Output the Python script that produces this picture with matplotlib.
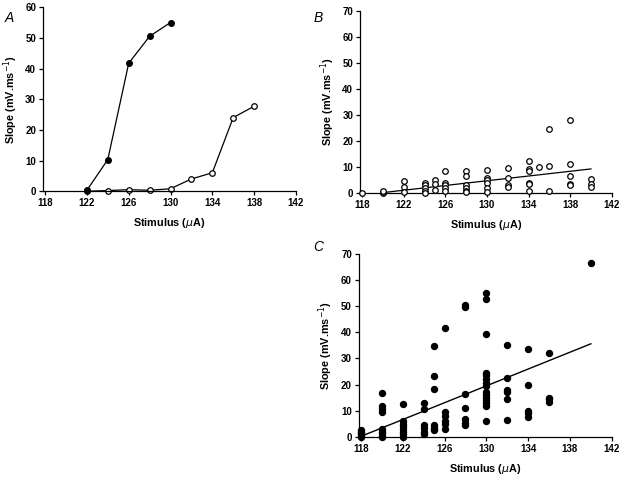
import numpy as np
import matplotlib.pyplot as plt

plt.rcParams['font.family'] = ['Liberation Sans', 'DejaVu Sans']

# Panel A: one cell, two stimulus series
a_x_filled = [122, 124, 126, 128, 130]
a_y_filled = [0.3, 10.3, 41.7, 50.5, 55.0]
a_x_open = [122, 124, 126, 128, 130, 132, 134, 136, 138]
a_y_open = [0.0, 0.2, 0.5, 0.3, 0.8, 4.0, 6.0, 24.0, 27.7]

# Panel B: open symbols
b_x = ([118] + [120] * 3 + [122] * 3 + [124] * 5 + [125] * 3 + [126] * 5
       + [128] * 6 + [130] * 6 + [132] * 4 + [134] * 6 + [135] + [136] * 3
       + [138] * 5 + [140] * 3)
b_y = ([0]
       + [0, 0.5, 1]
       + [4.7, 2.2, 0.4]
       + [4.0, 3.0, 2.0, 1.0, 0.1]
       + [4.9, 3.6, 1.3]
       + [8.6, 4.0, 3.0, 2.0, 1.0]
       + [8.5, 6.5, 3.0, 2.0, 1.0, 0.4]
       + [9.0, 6.0, 5.0, 4.0, 2.0, 0.4]
       + [9.6, 6.0, 3.0, 2.3]
       + [12.5, 9.2, 8.5, 4.0, 3.5, 0.9]
       + [10.0]
       + [24.5, 10.5, 1.0]
       + [28.0, 11.0, 6.5, 3.5, 3.0]
       + [5.5, 3.5, 2.5])
b_fit_x = [120, 140]
b_fit_y = [0.2, 9.3]

# Panel C: filled symbols
c_x = ([118] * 6 + [120] * 9 + [122] * 8 + [124] * 6 + [125] * 7 + [126] * 6
       + [128] * 7 + [130] * 15 + [132] * 6 + [134] * 5 + [136] * 4 + [140])
c_y = ([0, 0.5, 1.0, 1.5, 2.0, 2.5]
       + [16.8, 11.7, 10.5, 9.5, 3.0, 2.0, 1.5, 0.5, 0]
       + [12.5, 6.0, 5.0, 4.0, 3.0, 2.0, 1.0, 0]
       + [13.0, 10.7, 4.5, 3.5, 2.0, 1.0]
       + [34.9, 23.2, 18.5, 4.5, 3.5, 3.0, 2.5]
       + [41.8, 9.5, 8.0, 6.0, 5.0, 3.0]
       + [50.5, 49.6, 16.5, 11.0, 7.0, 5.5, 4.5]
       + [55.2, 52.7, 39.2, 24.5, 23.5, 22.0, 20.5, 19.5, 17.0, 16.0, 15.0,
          14.0, 13.0, 12.0, 6.1]
       + [35.0, 22.5, 18.0, 17.0, 14.3, 6.6]
       + [33.6, 19.7, 10.0, 9.0, 7.5]
       + [31.9, 15.0, 14.3, 13.5]
       + [66.3])
c_fit_x = [118, 140]
c_fit_y = [0.2, 35.6]

xticks = [118, 122, 126, 130, 134, 138, 142]

fig = plt.figure(figsize=(6.23, 4.78), dpi=100)
axA = fig.add_axes([0.069, 0.600, 0.406, 0.385])
axB = fig.add_axes([0.578, 0.596, 0.404, 0.381])
axC = fig.add_axes([0.576, 0.086, 0.406, 0.383])


def style(ax, ymax):
    ax.spines['top'].set_visible(False)
    ax.spines['right'].set_visible(False)
    ax.spines['left'].set_linewidth(0.9)
    ax.spines['bottom'].set_linewidth(0.9)
    ax.set_xlim(117.8, 142)
    ax.set_ylim(0, ymax)
    ax.set_xticks(xticks)
    ax.set_yticks(np.arange(0, ymax + 1, 10))
    ax.tick_params(direction='out', length=3, width=0.9, labelsize=7, pad=2)
    for lab in ax.get_xticklabels() + ax.get_yticklabels():
        lab.set_fontweight('bold')
    ax.set_xlabel('Stimulus ($\\mu$A)', fontsize=7.8, fontweight='bold', labelpad=6)
    ax.set_ylabel('Slope (mV.ms$^{-1}$)', fontsize=7.8, fontweight='bold', labelpad=4)


style(axA, 60)
axA.plot(a_x_filled, a_y_filled, '-o', color='black', lw=0.9, ms=4,
         mfc='black', mec='black', clip_on=False, zorder=3)
axA.plot(a_x_open, a_y_open, '-o', color='black', lw=0.9, ms=4,
         mfc='white', mec='black', mew=0.9, clip_on=False, zorder=2)

style(axB, 70)
axB.plot(b_x, b_y, 'o', ms=4, mfc='white', mec='black', mew=0.9,
         linestyle='none', clip_on=False, zorder=3)
axB.plot(b_fit_x, b_fit_y, '-', color='black', lw=0.9, zorder=2)

style(axC, 70)
axC.plot(c_x, c_y, 'o', ms=4.3, mfc='black', mec='black',
         linestyle='none', clip_on=False, zorder=3)
axC.plot(c_fit_x, c_fit_y, '-', color='black', lw=1.0, zorder=2)

fig.text(0.008, 0.978, 'A', fontsize=10, style='italic', va='top')
fig.text(0.503, 0.978, 'B', fontsize=10, style='italic', va='top')
fig.text(0.503, 0.498, 'C', fontsize=10, style='italic', va='top')

fig.savefig('out.png', dpi=100)
